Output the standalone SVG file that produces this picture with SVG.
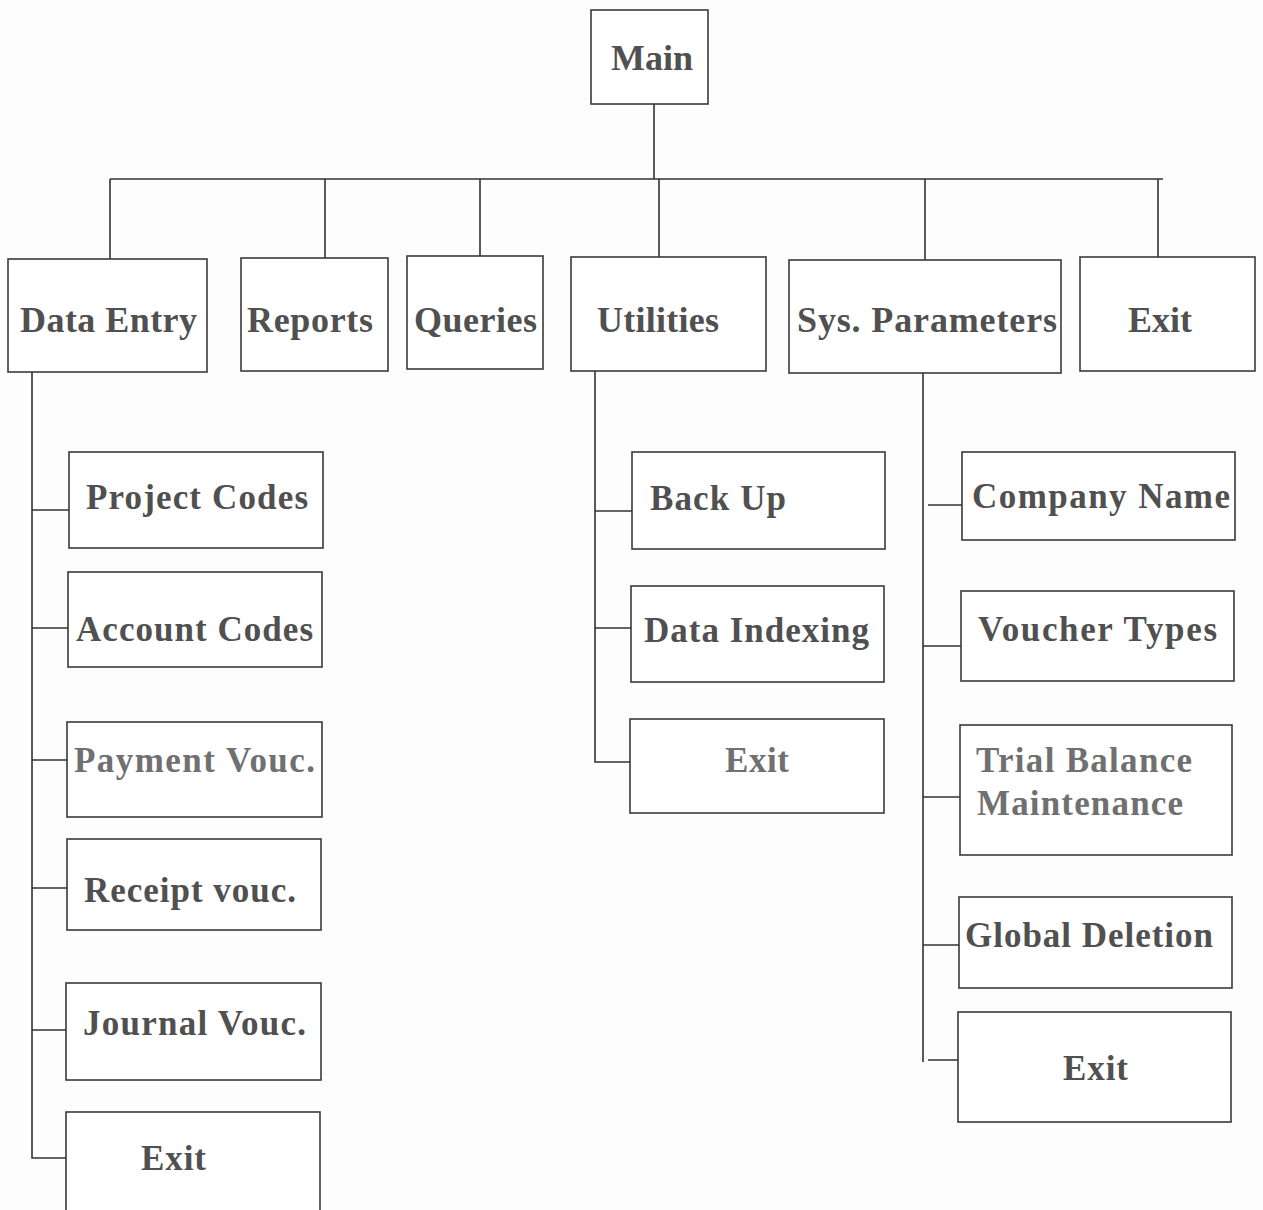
<svg xmlns="http://www.w3.org/2000/svg" width="1263" height="1210" viewBox="0 0 1263 1210">
<style>
.box{fill:#fff;stroke:#3a3a3a;stroke-width:1.6}
.ln{fill:none;stroke:#333;stroke-width:1.6}
.t{font-family:"Liberation Serif","Times New Roman",serif;font-weight:bold;fill:#505050}
.top{font-size:36px}
.sub{font-size:35px}
.lt{fill:#707070}
</style>
<rect width="1263" height="1210" fill="#fdfdfd"/>
<g id="connectors">
<path class="ln" d="M654,104 V179 M110,179 H1163 M110,179 V259 M325,179 V258 M480,179 V256 M659,179 V257 M925,179 V260 M1158,179 V257"/>
<path class="ln" d="M32,372 V1158 H72 M32,510 H69 M32,628 H68 M32,760 H67 M32,888 H67 M32,1030 H66"/>
<path class="ln" d="M595,371 V762 H630 M595,511 H632 M595,628 H631"/>
<path class="ln" d="M923,373 V1062 M928,505 H962 M923,646 H961 M923,797 H960 M923,945 H959 M928,1060 H960"/>
</g>
<g id="main"><rect class="box" x="591" y="10" width="117" height="94"/><text class="t top" x="611" y="70" textLength="82">Main</text></g>
<g id="data-entry"><rect class="box" x="8" y="259" width="199" height="113"/><text class="t top" x="20" y="332" textLength="177">Data Entry</text></g>
<g id="reports"><rect class="box" x="241" y="258" width="147" height="113"/><text class="t top" x="247" y="332" textLength="126">Reports</text></g>
<g id="queries"><rect class="box" x="407" y="256" width="136" height="113"/><text class="t top" x="414" y="332" textLength="123">Queries</text></g>
<g id="utilities"><rect class="box" x="571" y="257" width="195" height="114"/><text class="t top" x="597" y="332" textLength="122">Utilities</text></g>
<g id="sys-parameters"><rect class="box" x="789" y="260" width="272" height="113"/><text class="t top" x="797" y="332" textLength="260">Sys. Parameters</text></g>
<g id="exit-main"><rect class="box" x="1080" y="257" width="175" height="114"/><text class="t top" x="1128" y="332" textLength="64">Exit</text></g>

<g id="project-codes"><rect class="box" x="69" y="452" width="254" height="96"/><text class="t sub" x="86" y="509" textLength="222">Project Codes</text></g>
<g id="account-codes"><rect class="box" x="68" y="572" width="254" height="95"/><text class="t sub" x="76" y="641" textLength="237">Account Codes</text></g>
<g id="payment-vouc"><rect class="box" x="67" y="722" width="255" height="95"/><text class="t sub lt" x="74" y="772" textLength="241">Payment Vouc.</text></g>
<g id="receipt-vouc"><rect class="box" x="67" y="839" width="254" height="91"/><text class="t sub" x="84" y="902" textLength="212">Receipt vouc.</text></g>
<g id="journal-vouc"><rect class="box" x="66" y="983" width="255" height="97"/><text class="t sub" x="83" y="1035" textLength="223">Journal Vouc.</text></g>
<g id="exit-data-entry"><rect class="box" x="66" y="1112" width="254" height="102"/><text class="t sub" x="141" y="1170" textLength="65">Exit</text></g>

<g id="back-up"><rect class="box" x="632" y="452" width="253" height="97"/><text class="t sub" x="650" y="510" textLength="136">Back Up</text></g>
<g id="data-indexing"><rect class="box" x="631" y="586" width="253" height="96"/><text class="t sub" x="644" y="642" textLength="225">Data Indexing</text></g>
<g id="exit-utilities"><rect class="box" x="630" y="719" width="254" height="94"/><text class="t sub lt" x="725" y="772" textLength="64">Exit</text></g>

<g id="company-name"><rect class="box" x="962" y="452" width="273" height="88"/><text class="t sub" x="972" y="508" textLength="258">Company Name</text></g>
<g id="voucher-types"><rect class="box" x="961" y="591" width="273" height="90"/><text class="t sub" x="978" y="641" textLength="239">Voucher Types</text></g>
<g id="trial-balance"><rect class="box" x="960" y="725" width="272" height="130"/><text class="t sub lt" x="976" y="772" textLength="216">Trial Balance</text><text class="t sub lt" x="977" y="815" textLength="206">Maintenance</text></g>
<g id="global-deletion"><rect class="box" x="959" y="897" width="273" height="91"/><text class="t sub" x="965" y="947" textLength="248">Global Deletion</text></g>
<g id="exit-sys"><rect class="box" x="958" y="1012" width="273" height="110"/><text class="t sub" x="1063" y="1080" textLength="65">Exit</text></g>
</svg>
